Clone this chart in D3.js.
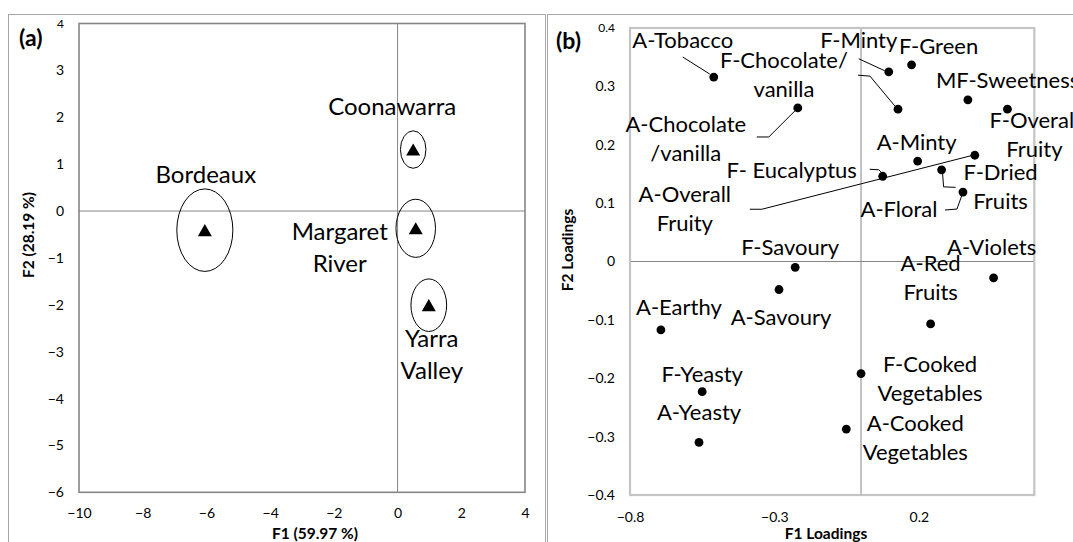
<!DOCTYPE html>
<html>
<head>
<meta charset="utf-8">
<script src="https://cdn.jsdelivr.net/npm/d3@7"></script>
<style>
    body { margin: 0; background: #fff; }
    svg { display: block; }
    text { font-family: Lato, "Open Sans", sans-serif; fill: #000; }
</style>
</head>
<body>
<svg id="chart" width="1073" height="542"></svg>
<script>
"use strict";

// (a) sample scores on F1 / F2
var regions = ["Coonawarra", "Bordeaux", "Margaret River", "Yarra Valley"];
var regionF1 = [0.49, -6.05, 0.57, 0.98];
var regionF2 = [1.29, -0.43, -0.39, -2.03];
var regionRadius = [0.40, 0.88, 0.62, 0.56];

// (b) attribute loadings
var attributes = ["A-Tobacco", "F-Chocolate/vanilla", "A-Chocolate/vanilla", "F-Minty",
    "F-Green", "MF-Sweetness", "F-Overall Fruity", "A-Minty", "A-Overall Fruity",
    "F- Eucalyptus", "F-Dried Fruits", "A-Floral", "F-Savoury", "A-Violets",
    "A-Red Fruits", "A-Savoury", "A-Earthy", "F-Cooked Vegetables", "F-Yeasty",
    "A-Cooked Vegetables", "A-Yeasty"];
var loadF1 = [-0.510, 0.128, -0.219, 0.096, 0.175, 0.370, 0.507, 0.196, 0.394, 0.075,
    0.279, 0.353, -0.228, 0.459, 0.241, -0.284, -0.693, 0.000, -0.550, -0.051, -0.561];
var loadF2 = [0.316, 0.261, 0.263, 0.325, 0.337, 0.277, 0.261, 0.172, 0.182, 0.146,
    0.157, 0.119, -0.010, -0.028, -0.107, -0.048, -0.117, -0.192, -0.223, -0.287, -0.310];

var scoreXTicks = [-10, -8, -6, -4, -2, 0, 2, 4];
var scoreYTicks = [4, 3, 2, 1, 0, -1, -2, -3, -4, -5, -6];
var loadXTicks = [-0.8, -0.3, 0.2];
var loadYTicks = [0.4, 0.3, 0.2, 0.1, 0, -0.1, -0.2, -0.3, -0.4];

// label placement, pixel offsets from each marker
var regionLabels = [
    { lines: ["Coonawarra"], dx: -21, dy: -36 },
    { lines: ["Bordeaux"], dx: 1, dy: -48 },
    { lines: ["Margaret", "River"], dx: -76, dy: 11 },
    { lines: ["Yarra", "Valley"], dx: 3, dy: 41 }
];
var attributeLabels = [
    { lines: ["A-Tobacco"], dx: -31, dy: -29, leader: [[-31, -20], [-4, -3]] },
    { lines: ["F-Chocolate/", "vanilla"], dx: -114, dy: -41, leader: [[-40, -34], [-28, -33], [-3, -3]] },
    { lines: ["A-Chocolate", "/vanilla"], dx: -112, dy: 24, leader: [[-41, 29], [-29, 29], [-2, 2]] },
    { lines: ["F-Minty"], dx: -30, dy: -24, leader: [[-30, -13], [-4, -1]] },
    { lines: ["F-Green"], dx: 27, dy: -11 },
    { lines: ["MF-Sweetness"], dx: -32, dy: -12, anchor: "start" },
    { lines: ["F-Overall", "Fruity"], dx: 27, dy: 19 },
    { lines: ["A-Minty"], dx: -1, dy: -11 },
    { lines: ["A-Overall", "Fruity"], dx: -290, dy: 47, leader: [[-225, 54], [-213, 54], [-2, 0]] },
    { lines: ["F- Eucalyptus"], dx: -91, dy: 2, leader: [[-13, -7], [-4, -6.5], [-1.5, -4]] },
    { lines: ["F-Dried", "Fruits"], dx: 59, dy: 10, leader: [[14, 17.5], [2, 17], [1, 4]] },
    { lines: ["A-Floral"], dx: -64, dy: 25, leader: [[-18, 18], [-6, 17], [-1, 3]] },
    { lines: ["F-Savoury"], dx: -5, dy: -12 },
    { lines: ["A-Violets"], dx: -2, dy: -23 },
    { lines: ["A-Red", "Fruits"], dx: 0, dy: -53 },
    { lines: ["A-Savoury"], dx: 2, dy: 35 },
    { lines: ["A-Earthy"], dx: 18, dy: -15 },
    { lines: ["F-Cooked", "Vegetables"], dx: 69, dy: -2 },
    { lines: ["F-Yeasty"], dx: 0, dy: -10 },
    { lines: ["A-Cooked", "Vegetables"], dx: 69, dy: 2 },
    { lines: ["A-Yeasty"], dx: 0, dy: -22 }
];

var svg = d3.select("#chart");

// panel frames
svg.append("rect").attr("x", 8.5).attr("y", 14.5).attr("width", 537).attr("height", 600)
    .attr("fill", "none").attr("stroke", "#a6a6a6");
svg.append("rect").attr("x", 547.5).attr("y", 14.5).attr("width", 600).attr("height", 600)
    .attr("fill", "none").attr("stroke", "#a6a6a6");

function multiline(sel, lines, lh) {
    sel.selectAll("tspan").data(lines).join("tspan")
        .attr("x", sel.attr("x"))
        .attr("dy", function (d, i) { return i === 0 ? 0 : lh; })
        .text(function (d) { return d; });
}

function drawAxes(g, x, y, xTicks, yTicks, xFmt, yFmt, xPad) {
    var ax = g.append("g").attr("transform", "translate(0," + y.range()[0] + ")")
        .call(d3.axisBottom(x).tickValues(xTicks).tickFormat(xFmt).tickSize(0).tickPadding(xPad));
    var ay = g.append("g").attr("transform", "translate(" + x.range()[0] + ",0)")
        .call(d3.axisLeft(y).tickValues(yTicks).tickFormat(yFmt).tickSize(0).tickPadding(15));
    [ax, ay].forEach(function (a) {
        a.select(".domain").remove();
        a.selectAll("text").style("font-family", "Lato, sans-serif").style("font-size", "14px").attr("fill", "#000");
    });
    // the top tick label is printed a little smaller in the source
    ay.selectAll("text").filter(function (d) { return d === yTicks[0]; }).style("font-size", "12px");
}

// ---------- (a) ----------
var xa = d3.scaleLinear().domain([-10, 4]).range([79, 525]);
var ya = d3.scaleLinear().domain([-6, 4]).range([492.3, 23.5]);
var ga = svg.append("g");

ga.append("line").attr("x1", xa(0)).attr("x2", xa(0)).attr("y1", ya(4)).attr("y2", ya(-6))
    .attr("stroke", "#868686");
ga.append("line").attr("x1", xa(-10)).attr("x2", xa(4)).attr("y1", ya(0)).attr("y2", ya(0))
    .attr("stroke", "#868686");
ga.append("rect").attr("x", xa(-10)).attr("y", ya(4))
    .attr("width", xa(4) - xa(-10)).attr("height", ya(-6) - ya(4))
    .attr("fill", "none").attr("stroke", "#868686").attr("stroke-width", 1.6);

drawAxes(ga, xa, ya, scoreXTicks, scoreYTicks, d3.format("d"), d3.format("d"), 16);

ga.selectAll("ellipse.conf").data(regions).join("ellipse").attr("class", "conf")
    .attr("cx", function (d, i) { return xa(regionF1[i]); })
    .attr("cy", function (d, i) { return ya(regionF2[i]) - 1; })
    .attr("rx", function (d, i) { return xa(regionRadius[i]) - xa(0); })
    .attr("ry", function (d, i) { return ya(0) - ya(regionRadius[i]); })
    .attr("fill", "none").attr("stroke", "#000").attr("stroke-width", 1);

ga.selectAll("path.tri").data(regions).join("path").attr("class", "tri")
    .attr("d", d3.symbol().type(d3.symbolTriangle).size(85))
    .attr("transform", function (d, i) {
        return "translate(" + xa(regionF1[i]) + "," + (ya(regionF2[i]) + 1) + ")";
    })
    .attr("fill", "#000");

ga.selectAll("text.lbl").data(regions).join("text").attr("class", "lbl")
    .attr("x", function (d, i) { return xa(regionF1[i]) + regionLabels[i].dx; })
    .attr("y", function (d, i) { return ya(regionF2[i]) + regionLabels[i].dy; })
    .attr("text-anchor", "middle").style("font-size", "24px")
    .each(function (d, i) { multiline(d3.select(this), regionLabels[i].lines, 32); });

ga.append("text").attr("x", 315).attr("y", 539).attr("text-anchor", "middle")
    .style("font-size", "15.5px").style("font-weight", "bold").text("F1 (59.97 %)");
ga.append("text").attr("transform", "translate(34,235) rotate(-90)").attr("text-anchor", "middle")
    .style("font-size", "15.5px").style("font-weight", "bold").text("F2 (28.19 %)");
ga.append("text").attr("x", 19).attr("y", 46)
    .style("font-size", "23px").style("font-weight", "bold").text("(a)");

// ---------- (b) ----------
var xb = d3.scaleLinear().domain([-0.8, 0.6]).range([630, 1034.3]);
var yb = d3.scaleLinear().domain([-0.4, 0.4]).range([495, 28]);
var gb = svg.append("g");

gb.append("line").attr("x1", xb(0)).attr("x2", xb(0)).attr("y1", yb(0.4)).attr("y2", yb(-0.4))
    .attr("stroke", "#868686");
gb.append("line").attr("x1", xb(-0.8)).attr("x2", xb(0.6)).attr("y1", yb(0)).attr("y2", yb(0))
    .attr("stroke", "#868686");
gb.append("rect").attr("x", xb(-0.8)).attr("y", yb(0.4))
    .attr("width", xb(0.6) - xb(-0.8)).attr("height", yb(-0.4) - yb(0.4))
    .attr("fill", "none").attr("stroke", "#c4c4c4").attr("stroke-width", 2.2);

drawAxes(gb, xb, yb, loadXTicks, loadYTicks, d3.format(".1f"), d3.format(".1f"), 17);
gb.selectAll("g.tick text").filter(function (d) { return d === 0; }).text("0");

var line = d3.line();
gb.selectAll("path.leader").data(attributes).join("path").attr("class", "leader")
    .attr("d", function (d, i) {
        var lay = attributeLabels[i];
        if (!lay.leader) return null;
        var px = xb(loadF1[i]), py = yb(loadF2[i]);
        return line(lay.leader.map(function (p) { return [px + p[0], py + p[1]]; }));
    })
    .attr("fill", "none").attr("stroke", "#000").attr("stroke-width", 1);

gb.selectAll("circle.dot").data(attributes).join("circle").attr("class", "dot")
    .attr("cx", function (d, i) { return xb(loadF1[i]); })
    .attr("cy", function (d, i) { return yb(loadF2[i]); })
    .attr("r", 4.4).attr("fill", "#000");

gb.selectAll("text.lbl").data(attributes).join("text").attr("class", "lbl")
    .attr("x", function (d, i) { return xb(loadF1[i]) + attributeLabels[i].dx; })
    .attr("y", function (d, i) { return yb(loadF2[i]) + attributeLabels[i].dy; })
    .attr("text-anchor", function (d, i) { return attributeLabels[i].anchor || "middle"; })
    .style("font-size", "22px")
    .each(function (d, i) { multiline(d3.select(this), attributeLabels[i].lines, 29); });

gb.append("text").attr("x", 826).attr("y", 539).attr("text-anchor", "middle")
    .style("font-size", "15.5px").style("font-weight", "bold").text("F1 Loadings");
gb.append("text").attr("transform", "translate(573,250) rotate(-90)").attr("text-anchor", "middle")
    .style("font-size", "15.5px").style("font-weight", "bold").text("F2 Loadings");
gb.append("text").attr("x", 556).attr("y", 49)
    .style("font-size", "23px").style("font-weight", "bold").text("(b)");
</script>
</body>
</html>
